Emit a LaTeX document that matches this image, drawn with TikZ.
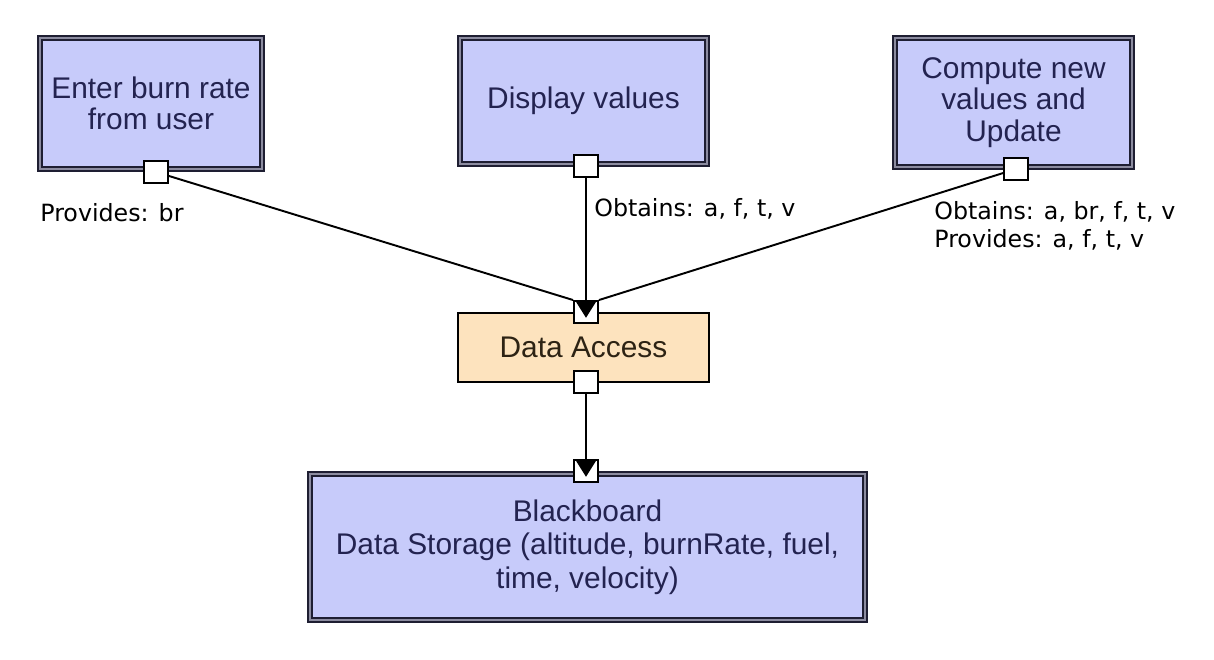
\documentclass[tikz,border=0pt]{standalone}
\usepackage{fontspec}
\setmainfont{Liberation Sans}
\newfontfamily\notefont{DejaVu Sans}
\usepackage{tikz}
\usetikzlibrary{arrows.meta, positioning, calc}
\definecolor{taskblue}{RGB}{199, 203, 250}
\definecolor{taskline}{RGB}{30, 30, 50}
\definecolor{taskgap}{RGB}{140, 140, 160}
\definecolor{tasktext}{RGB}{35, 35, 80}
\definecolor{accessfill}{RGB}{253, 227, 190}
\definecolor{accesstext}{RGB}{45, 35, 20}

\tikzset{
  task/.style={draw=taskline, line width=1pt, double=taskgap, double distance=1.4pt,
    fill=taskblue, inner sep=0pt, align=center, text=tasktext,
    font=\fontsize{17}{18}\selectfont},
  access/.style={draw=black, line width=1.4pt, fill=accessfill, inner sep=0pt,
    align=center, text=accesstext, font=\fontsize{17}{18}\selectfont,
    minimum width=5.02cm, minimum height=1.38cm},
  port/.style={draw=black, line width=1.1pt, fill=white, inner sep=0pt,
    minimum width=0.48cm, minimum height=0.44cm},
  note/.style={font=\notefont\fontsize{13.5}{16}\selectfont, inner sep=0pt, align=left},
  link/.style={line width=1.1pt, black},
  flow/.style={link, -{Triangle[width=11pt, length=9pt]}}
}

\begin{document}
\begin{tikzpicture}
  \useasboundingbox (0, 0) rectangle (24.28, -13.2);

  % Components
  \node[task, minimum width=4.44cm, minimum height=2.62cm] (enter) at (3.02, -2.07)
    {Enter burn rate\\from user};
  \node[task, minimum width=4.94cm, minimum height=2.52cm] (display) at (11.67, -2.02)
    {Display values};
  \node[task, minimum width=4.74cm, minimum height=2.58cm] (compute) at (20.27, -2.05)
    {Compute new\\values and\\Update};

  % Connector
  \node[access] (access) at (11.67, -6.95) {Data Access};

  % Blackboard
  \node[task, minimum width=11.1cm, minimum height=2.92cm, font=\fontsize{17}{19}\selectfont] (board) at (11.75, -10.94)
    {Blackboard\\Data Storage (altitude, burnRate, fuel,\\time, velocity)};

  % Ports
  \node[port] (enterport) at (3.12, -3.44) {};
  \node[port] (displayport) at (11.72, -3.32) {};
  \node[port] (computeport) at (20.32, -3.38) {};
  \node[port] (accesstop) at (11.72, -6.24) {};
  \node[port] (accessbottom) at (11.72, -7.64) {};
  \node[port] (boardtop) at (11.72, -9.42) {};

  % Links
  \draw[link] (enterport) -- (accesstop.north west);
  \draw[link] (computeport) -- (accesstop.north east);
  \draw[flow] (displayport) -- ([yshift=3.5pt]accesstop.south);
  \draw[flow] (accessbottom) -- ([yshift=3.5pt]boardtop.south);

  % Labels
  \node[note, anchor=west] (providesbr) at (0.8, -4.26) {Provides: br};
  \node[note, anchor=west] (obtainsdisp) at (11.88, -4.18) {Obtains: a, f, t, v};
  \node[note, anchor=west] (computenote) at (18.68, -4.52)
    {Obtains: a, br, f, t, v\\Provides: a, f, t, v};
\end{tikzpicture}
\end{document}
